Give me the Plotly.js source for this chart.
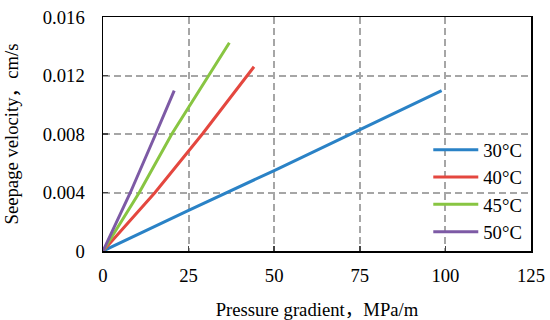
<!DOCTYPE html>
<html>
<head>
<meta charset="utf-8">
<script src="https://cdn.plot.ly/plotly-3.0.1.min.js"></script>
<style>html,body{margin:0;padding:0;background:#fff;}#chart{width:550px;height:320px;}</style>
</head>
<body>
<div id="chart"></div>
<script>
// Data
const seriesNames = ["30\u00b0C", "40\u00b0C", "45\u00b0C", "50\u00b0C"];
const x30 = [0, 25, 50, 75, 98.9];
const y30 = [0, 0.00278, 0.0055, 0.0083, 0.01096];
const x40 = [0, 15.2, 29.2, 44.1];
const y40 = [0, 0.0040, 0.00805, 0.0126];
const x45 = [0, 10.6, 20.1, 31.0, 36.9];
const y45 = [0, 0.0040, 0.0080, 0.0120, 0.01424];
const x50 = [0, 8.0, 15.4, 20.8];
const y50 = [0, 0.0040, 0.0080, 0.01096];
const xTickVals = [0, 25, 50, 75, 100, 125];
const yTickVals = [0, 0.004, 0.008, 0.012, 0.016];
const yTickText = ["0", "0.004", "0.008", "0.012", "0.016"];
const colors = ["#2a82c6", "#e4473f", "#88c542", "#7d5aa5"];

const xs = [x30, x40, x45, x50];
const ys = [y30, y40, y45, y50];
const traces = seriesNames.map((n, i) => ({
  x: xs[i], y: ys[i], name: n, type: 'scatter', mode: 'lines',
  legendgroup: 'g' + i,
  line: {color: colors[i], width: 3}
}));

const FAM = 'Liberation Serif, Noto Sans CJK SC';
function f(size) { return {family: FAM, size: size, color: '#000', weight: 'normal'}; }
const FS = 18.67;
const layout = {
  width: 550, height: 320,
  margin: {l: 103, r: 19, t: 17, b: 69},
  paper_bgcolor: '#fff', plot_bgcolor: '#fff',
  font: f(FS),
  showlegend: true,
  legend: {x: 0.76, y: 0.512, xanchor: 'left', yanchor: 'top', bgcolor: 'rgba(0,0,0,0)',
           font: f(FS), tracegroupgap: 0, itemwidth: 45},
  xaxis: {
    range: [0, 125], tickvals: xTickVals, ticks: 'inside', ticklen: 5, tickwidth: 1.5,
    showline: true, linecolor: '#000', linewidth: 1.5, mirror: true,
    showgrid: true, gridcolor: '#a6a6a6', griddash: '7px,4px', gridwidth: 2,
    zeroline: false, tickfont: f(FS), ticklabelstandoff: 7,
    title: {text: 'Pressure gradient\uff0cMPa/m', font: f(FS), standoff: 20}
  },
  yaxis: {
    range: [0, 0.016], tickvals: yTickVals, ticktext: yTickText, ticks: 'inside', ticklen: 5, tickwidth: 1.5,
    showline: true, linecolor: '#000', linewidth: 1.5, mirror: true,
    showgrid: true, gridcolor: '#a6a6a6', griddash: '7px,4px', gridwidth: 2,
    zeroline: false, tickfont: f(FS), ticklabelstandoff: 13,
    title: {text: 'Seepage velocity\uff0ccm/s', font: f(FS), standoff: 19}
  }
};
Plotly.newPlot('chart', traces, layout, {displayModeBar: false, staticPlot: true});
</script>
</body>
</html>
